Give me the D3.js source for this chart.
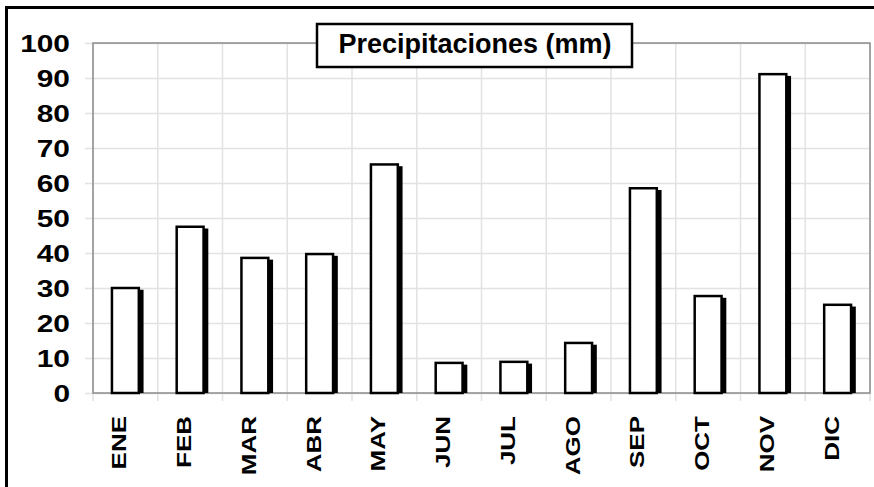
<!DOCTYPE html>
<html>
<head>
<meta charset="utf-8">
<script src="https://cdn.jsdelivr.net/npm/d3@7"></script>
<style>
  body { margin: 0; background: #fff; }
  svg { display: block; }
</style>
</head>
<body>
<div id="chart"></div>
<script>
const months = ['ENE', 'FEB', 'MAR', 'ABR', 'MAY', 'JUN', 'JUL', 'AGO', 'SEP', 'OCT', 'NOV', 'DIC'];
const rainfall = [30, 47.5, 38.6, 39.7, 65.3, 8.6, 8.9, 14.3, 58.5, 27.7, 91.1, 25.2];
const yTicks = [0, 10, 20, 30, 40, 50, 60, 70, 80, 90, 100];
const chartTitle = 'Precipitaciones (mm)';

const W = 874, H = 487;
const plot = { left: 93, right: 870, top: 43, bottom: 393 };
const font = '"Liberation Sans", Arial, sans-serif';

const svg = d3.select('#chart').append('svg')
    .attr('width', W)
    .attr('height', H);

// outer frame (runs past the right / bottom edge of the picture)
svg.append('rect')
    .attr('x', 6.5).attr('y', 7.5)
    .attr('width', W + 20).attr('height', H + 20)
    .attr('fill', '#fff')
    .attr('stroke', '#000')
    .attr('stroke-width', 3);

const x = d3.scaleBand()
    .domain(months)
    .range([plot.left, plot.right])
    .padding(0);

const y = d3.scaleLinear()
    .domain([0, 100])
    .range([plot.bottom, plot.top]);

// vertical grid lines at the category boundaries
const bounds = months.map(m => x(m)).concat([plot.right]);
svg.selectAll('.vgrid')
    .data(bounds)
    .enter()
    .append('line')
    .attr('class', 'vgrid')
    .attr('x1', d => d).attr('x2', d => d)
    .attr('y1', plot.top).attr('y2', plot.bottom + 8)
    .attr('stroke', '#e2e2e2')
    .attr('stroke-width', 1.5);

// y axis, drawn from the right edge so its ticks become the horizontal grid
const yAxis = svg.append('g')
    .attr('transform', `translate(${plot.right},0)`)
    .call(d3.axisLeft(y).tickValues(yTicks).tickSize(plot.right - plot.left + 8));

yAxis.select('.domain').remove();
yAxis.selectAll('.tick line')
    .attr('stroke', '#e2e2e2')
    .attr('stroke-width', 1.5);
yAxis.selectAll('.tick text')
    .attr('x', null)
    .attr('dy', '0.36em')
    .attr('text-anchor', 'end')
    .attr('transform', `translate(${70 - plot.right},0) scale(1.3,1)`)
    .attr('font-family', font)
    .attr('font-weight', 'bold')
    .attr('font-size', 23)
    .attr('fill', '#000');

// plot area border
svg.append('rect')
    .attr('x', plot.left).attr('y', plot.top)
    .attr('width', plot.right - plot.left)
    .attr('height', plot.bottom - plot.top)
    .attr('fill', 'none')
    .attr('stroke', '#8c8c8c')
    .attr('stroke-width', 1.5);

const barW = x.bandwidth() * 0.415;
const barOff = (x.bandwidth() - barW) / 2;
const sw = 2.5;

// shadows
svg.selectAll('.shadow')
    .data(rainfall)
    .enter()
    .append('rect')
    .attr('class', 'shadow')
    .attr('x', (d, i) => x(months[i]) + barOff - sw / 2 + 3.5)
    .attr('y', d => y(d) - sw / 2 + 3)
    .attr('width', barW + sw)
    .attr('height', d => Math.max(0, y(0) - y(d) + sw / 2 - 3))
    .attr('fill', '#000');

// bars
svg.selectAll('.bar')
    .data(rainfall)
    .enter()
    .append('rect')
    .attr('class', 'bar')
    .attr('x', (d, i) => x(months[i]) + barOff)
    .attr('y', d => y(d))
    .attr('width', barW)
    .attr('height', d => y(0) - y(d))
    .attr('fill', '#fff')
    .attr('stroke', '#000')
    .attr('stroke-width', sw);

// month labels, rotated
const xAxis = svg.append('g')
    .attr('transform', `translate(0,${plot.bottom})`)
    .call(d3.axisBottom(x).tickSize(0));

xAxis.select('.domain').remove();
xAxis.selectAll('.tick text')
    .attr('y', null)
    .attr('dy', null)
    .attr('text-anchor', 'end')
    .attr('transform', 'translate(1,23) scale(1,1.3) rotate(-90)')
    .attr('font-family', font)
    .attr('font-weight', 'bold')
    .attr('font-size', 20)
    .attr('fill', '#000');

// title box
const titleBox = svg.append('g');
titleBox.append('rect')
    .attr('x', 317).attr('y', 24)
    .attr('width', 315).attr('height', 43)
    .attr('fill', '#fff')
    .attr('stroke', '#000')
    .attr('stroke-width', 2.5);
titleBox.append('text')
    .attr('x', 475).attr('y', 53)
    .attr('text-anchor', 'middle')
    .attr('font-family', font)
    .attr('font-weight', 'bold')
    .attr('font-size', 27)
    .attr('fill', '#000')
    .text(chartTitle);
</script>
</body>
</html>
